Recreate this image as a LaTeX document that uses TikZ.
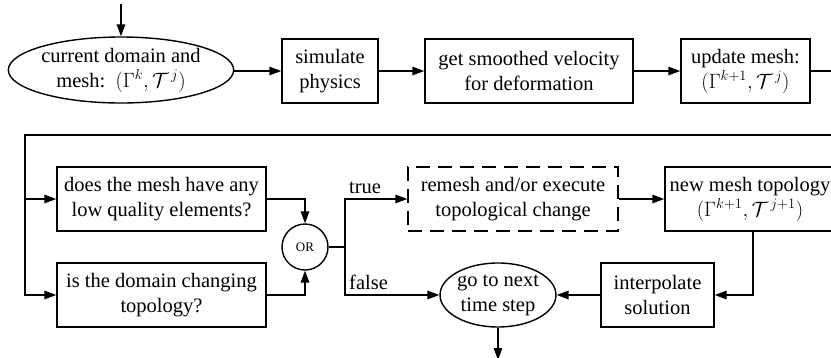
\documentclass[tikz,border=0pt]{standalone}
\usepackage{fontspec}
\setmainfont{Liberation Serif}
\usetikzlibrary{arrows.meta,shapes.geometric}

\tikzset{
  every node/.style={font=\fontsize{20.5}{25}\selectfont, align=center, inner sep=0pt},
  boxnode/.style={draw, line width=1.4pt, rectangle, minimum height=64pt},
  ovalnode/.style={draw, line width=1.4pt, ellipse},
  dashbox/.style={boxnode, dash pattern=on 14pt off 8pt},
  line/.style={line width=1.4pt},
  arr/.style={line, -{Triangle[length=12pt,width=8.5pt]}},
  tag/.style={font=\fontsize{20.5}{25}\selectfont, anchor=south west}
}

\begin{document}
\begin{tikzpicture}[x=1pt,y=-1pt]
  \useasboundingbox (0,0) rectangle (831,357);
  \clip (0,0) rectangle (831,357);

  % top row: one time step of the mesh update
  \coordinate (entry) at (121,4);
  \node[ovalnode, minimum width=225pt, minimum height=66pt] (cur) at (121,70)
    {current domain and\\ mesh:~~$(\Gamma^k,\mathcal{T}^{\,j})$};
  \node[boxnode, minimum width=96pt] (sim) at (330,71) {simulate\\ physics};
  \node[boxnode, minimum width=208pt] (vel) at (529,71) {get smoothed velocity\\ for deformation};
  \node[boxnode, minimum width=129pt] (upd) at (745.5,71) {update mesh:\\ $(\Gamma^{k+1},\mathcal{T}^{\,j})$};
  \coordinate (exit1) at (845,71);

  % return line feeding the two checks
  \coordinate (exit2) at (845,135);
  \coordinate (corner) at (25,135);

  \node[boxnode, minimum width=209pt] (q1) at (161.5,199) {does the mesh have any\\ low quality elements?};
  \node[boxnode, minimum width=209pt] (q2) at (161.5,295) {is the domain changing\\ topology?};
  \node[draw, line width=1.4pt, circle, minimum size=46pt, font=\fontsize{13}{15}\selectfont] (or) at (305,247) {OR};
  \coordinate (split) at (345,247);

  \node[dashbox, minimum width=210pt] (rem) at (513,199) {remesh and/or execute\\ topological change};
  \node[boxnode, minimum width=170pt] (new) at (750,199) {new mesh topology\\ $(\Gamma^{k+1},\mathcal{T}^{\,j+1})$};
  \node[boxnode, minimum width=113pt] (int) at (657.5,295) {interpolate\\ solution};
  \node[ovalnode, minimum width=112pt, minimum height=64pt] (nxt) at (498,295) {go to next\\ time step};
  \coordinate (done) at (498,360);

  % connectors
  \draw[arr] (entry) -- (cur.north);
  \draw[arr] (cur.east |- sim.west) -- (sim.west);
  \draw[arr] (sim.east) -- (vel.west);
  \draw[arr] (vel.east) -- (upd.west);
  \draw[line] (upd.east) -- (exit1);

  \draw[arr] (exit2) -- (corner) |- (q2.west);
  \draw[arr] (corner |- q1.west) -- (q1.west);

  \draw[arr] (q1.east) -| (or.north);
  \draw[arr] (q2.east) -| (or.south);
  \draw[line] (or.east) -- (split);
  \draw[arr] (split) |- (rem.west);
  \draw[arr] (split) |- (nxt.west);
  \node[tag] at ([xshift=4pt,yshift=5pt]split |- rem.west) {true};
  \node[tag] at ([xshift=4pt,yshift=5pt]split |- nxt.west) {false};

  \draw[arr] (rem.east) -- (new.west);
  \draw[arr] ([xshift=3pt]new.south) |- (int.east);
  \draw[arr] (int.west) -- (nxt.east);
  \draw[arr] (nxt.south) -- (done);
\end{tikzpicture}
\end{document}
